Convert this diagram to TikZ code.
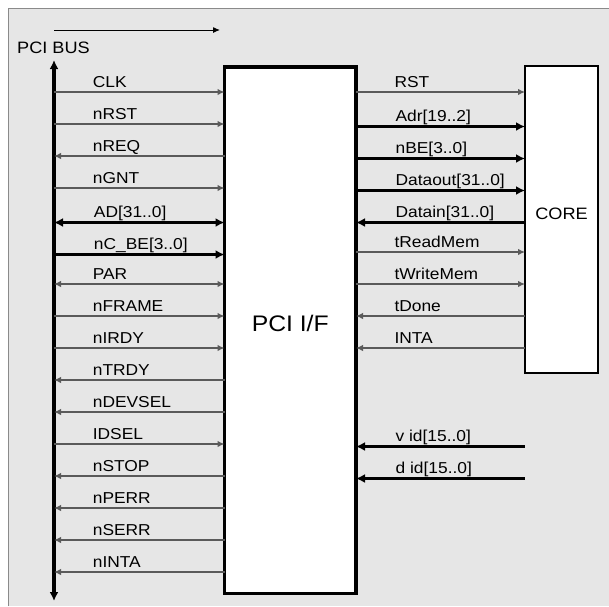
\documentclass[tikz,border=0pt]{standalone}
\usepackage{fontspec}
\setmainfont{Liberation Sans}[FakeStretch=1.1]
\usepackage{tikz}
\usetikzlibrary{arrows.meta,positioning}
\definecolor{panelgray}{HTML}{E6E6E6}
\definecolor{framegray}{HTML}{8A8A8A}
\definecolor{wiregray}{HTML}{5A5A5A}

\begin{document}
\begin{tikzpicture}[x=1pt,y=-1pt,
    wire/.style={line width=1.3pt,draw=wiregray,>={Latex[length=7pt,width=6.5pt]}},
    buswire/.style={line width=3.5pt,draw=black,>={Latex[length=9pt,width=9pt]}},
    lbl/.style={pos=0.224,anchor=base west,yshift=5pt,inner sep=0pt,
      text=black,font=\fontsize{15.8}{18}\selectfont},
    block/.style={draw=black,fill=white,inner sep=0pt,outer sep=0pt}]
    \useasboundingbox (0,0) rectangle (609,606);
    \fill[panelgray] (8,8) rectangle (609,606);
    \draw[framegray,line width=1pt] (8,606) -- (8,8) -- (609,8);

    % blocks
    \node[block,line width=3.5pt,minimum width=131.5pt,minimum height=526.5pt] (pci) at (290.25,330.3) {};
    \node[font=\fontsize{22.5}{26}\selectfont] (pcilbl) at ([yshift=7pt]pci.center) {PCI I/F};
    \node[block,line width=1.5pt,minimum width=73pt,minimum height=307pt] (core) at (561.5,219.5) {};
    \node[font=\fontsize{16.5}{19}\selectfont] (corelbl) at ([yshift=6pt]core.center) {CORE};

    % bus
    \coordinate (dirtail) at (54,30);
    \coordinate (dirhead) at (220,30);
    \draw[line width=1pt,->,>={Latex[length=7pt,width=6pt]}] (dirtail) -- (dirhead);
    \node[anchor=base west,inner sep=0pt,font=\fontsize{16.5}{19}\selectfont] (buslbl) at (17,53.3) {PCI BUS};
    \coordinate (bustop) at (54,60);
    \coordinate (busbot) at (54,601);
    \draw[buswire,<->] (bustop) -- (busbot);

    % PCI side
    \coordinate (clk) at (54,92);
    \coordinate (nrst) at (54,124);
    \coordinate (nreq) at (54,156);
    \coordinate (ngnt) at (54,188);
    \coordinate (ad) at (54,222.5);
    \coordinate (ncbe) at (54,254.5);
    \coordinate (par) at (54,284);
    \coordinate (nframe) at (54,316);
    \coordinate (nirdy) at (54,348);
    \coordinate (ntrdy) at (54,380);
    \coordinate (ndevsel) at (54,412);
    \coordinate (idsel) at (54,444);
    \coordinate (nstop) at (54,476);
    \coordinate (nperr) at (54,508);
    \coordinate (nserr) at (54,540);
    \coordinate (ninta) at (54,572);
    \draw[wire,->] (clk) -- node[lbl]{CLK} (clk -| pci.west);
    \draw[wire,->] (nrst) -- node[lbl]{nRST} (nrst -| pci.west);
    \draw[wire,<-] (nreq) -- node[lbl]{nREQ} (nreq -| pci.west);
    \draw[wire,->] (ngnt) -- node[lbl]{nGNT} (ngnt -| pci.west);
    \draw[buswire,<->] (ad) -- node[lbl]{AD[31..0]} (ad -| pci.west);
    \draw[buswire,->] (ncbe) -- node[lbl]{nC\_BE[3..0]} (ncbe -| pci.west);
    \draw[wire,<->] (par) -- node[lbl]{PAR} (par -| pci.west);
    \draw[wire,->] (nframe) -- node[lbl]{nFRAME} (nframe -| pci.west);
    \draw[wire,->] (nirdy) -- node[lbl]{nIRDY} (nirdy -| pci.west);
    \draw[wire,<-] (ntrdy) -- node[lbl]{nTRDY} (ntrdy -| pci.west);
    \draw[wire,<-] (ndevsel) -- node[lbl]{nDEVSEL} (ndevsel -| pci.west);
    \draw[wire,->] (idsel) -- node[lbl]{IDSEL} (idsel -| pci.west);
    \draw[wire,<-] (nstop) -- node[lbl]{nSTOP} (nstop -| pci.west);
    \draw[wire,<-] (nperr) -- node[lbl]{nPERR} (nperr -| pci.west);
    \draw[wire,<-] (nserr) -- node[lbl]{nSERR} (nserr -| pci.west);
    \draw[wire,<-] (ninta) -- node[lbl]{nINTA} (ninta -| pci.west);

    % core side
    \coordinate (rst) at (525,92);
    \coordinate (adr) at (525,126.5);
    \coordinate (nbe) at (525,158.5);
    \coordinate (dout) at (525,190.5);
    \coordinate (din) at (525,222.5);
    \coordinate (trd) at (525,252);
    \coordinate (twr) at (525,284);
    \coordinate (tdone) at (525,316);
    \coordinate (inta) at (525,348);
    \coordinate (vid) at (525,446.5);
    \coordinate (did) at (525,478.5);
    \draw[wire,->] (rst -| pci.east) -- node[lbl]{RST} (rst);
    \draw[buswire,->] (adr -| pci.east) -- node[lbl]{Adr[19..2]} (adr);
    \draw[buswire,->] (nbe -| pci.east) -- node[lbl]{nBE[3..0]} (nbe);
    \draw[buswire,->] (dout -| pci.east) -- node[lbl]{Dataout[31..0]} (dout);
    \draw[buswire,<-] (din -| pci.east) -- node[lbl]{Datain[31..0]} (din);
    \draw[wire,->] (trd -| pci.east) -- node[lbl]{tReadMem} (trd);
    \draw[wire,->] (twr -| pci.east) -- node[lbl]{tWriteMem} (twr);
    \draw[wire,<-] (tdone -| pci.east) -- node[lbl]{tDone} (tdone);
    \draw[wire,<-] (inta -| pci.east) -- node[lbl]{INTA} (inta);
    \draw[buswire,<-] (vid -| pci.east) -- node[lbl]{v id[15..0]} (vid);
    \draw[buswire,<-] (did -| pci.east) -- node[lbl]{d id[15..0]} (did);
\end{tikzpicture}
\end{document}
